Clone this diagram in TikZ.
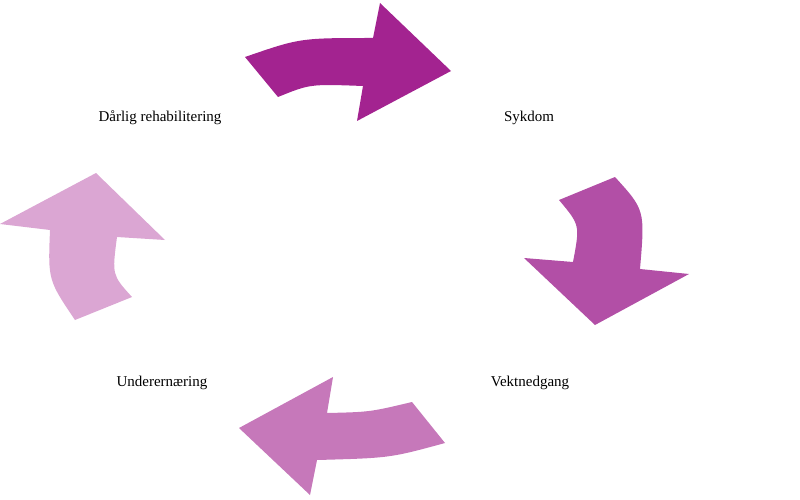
\documentclass[tikz,border=0pt]{standalone}
\usepackage{fontspec}
\setmainfont{Liberation Serif}
\definecolor{ca}{HTML}{A32390}
\definecolor{cb}{HTML}{B24FA6}
\definecolor{cc}{HTML}{C678BA}
\definecolor{cd}{HTML}{DBA6D3}
\tikzset{lbl/.style={font=\fontsize{15}{18}\selectfont, inner sep=1pt}}
\begin{document}
\begin{tikzpicture}[x=1pt,y=-1pt]
\useasboundingbox (0,0) rectangle (800,500);
% top arrow
\fill[ca] (245,57) .. controls (300,38) .. (373,38) -- (380,3) -- (451,71) -- (357,121) -- (363,86) .. controls (310,84) .. (278,97) -- cycle;
% right arrow
\fill[cb] (559,200) -- (615,177) .. controls (645,210) .. (640,269) -- (689,274) -- (595,325) -- (524,258) -- (573,262) .. controls (580,225) .. (559,200) -- cycle;
% bottom arrow
\fill[cc] (412,402) -- (445,443) .. controls (390,458) .. (317,460) -- (310,495) -- (239,428) -- (333,377) -- (327,413) .. controls (370,412) .. (412,402) -- cycle;
% left arrow
\fill[cd] (132,297) -- (75,320) .. controls (48,280) .. (50,230) -- (0,224) -- (96,173) -- (165,240) -- (117,237) .. controls (112,275) .. (132,297) -- cycle;
\node[lbl] (n1) at (160,118) {Dårlig rehabilitering};
\node[lbl] (n2) at (529,118) {Sykdom};
\node[lbl] (n3) at (530,383) {Vektnedgang};
\node[lbl] (n4) at (162,383) {Underernæring};
\end{tikzpicture}
\end{document}
